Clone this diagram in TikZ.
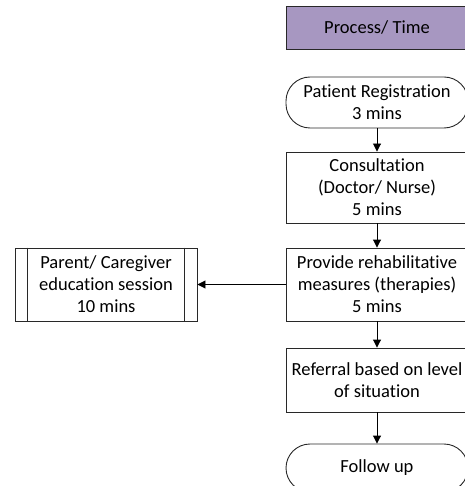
\documentclass[tikz,border=0pt]{standalone}
\usepackage{fontspec}
\setmainfont[Ligatures=NoCommon]{Carlito}
\usetikzlibrary{arrows.meta,positioning}
\definecolor{hdr}{RGB}{167,151,193}
\definecolor{ln}{RGB}{40,40,40}
\tikzset{
  base/.style={draw=ln, line width=0.9pt, align=center, inner sep=0pt,
    font=\fontsize{18.5}{22}\selectfont, text=black},
  proc/.style={base, rectangle, minimum width=182pt},
  term/.style={base, rectangle, rounded corners=24pt, minimum width=182pt},
  arr/.style={draw=black, line width=0.9pt, -{Triangle[length=8pt,width=8pt]}},
}
\begin{document}
\begin{tikzpicture}[x=1pt,y=-1pt]
\useasboundingbox (0,0) rectangle (464,486);
\node[proc, fill=hdr, minimum height=42.5pt] (hdr) at (377,27.75) {Process/ Time};
\node[term, minimum height=51pt] (reg) at (377,102.5) {Patient Registration\\3 mins};
\node[proc, minimum height=71pt] (con) at (377,187.5) {Consultation\\(Doctor/ Nurse)\\5 mins};
\node[proc, minimum height=73pt] (reh) at (377,284.5) {Provide rehabilitative\\measures (therapies)\\5 mins};
\node[proc, minimum height=64pt] (ref) at (377,380) {Referral based on level\\of situation};
\node[term, minimum height=48pt] (fol) at (377,468) {Follow up};
\node[proc, minimum height=73pt] (par) at (106,284.5) {Parent/ Caregiver\\education session\\10 mins};
\draw[draw=ln, line width=0.9pt] ([xshift=13pt]par.north west) -- ([xshift=13pt]par.south west);
\draw[draw=ln, line width=0.9pt] ([xshift=-13pt]par.north east) -- ([xshift=-13pt]par.south east);
\draw[arr] (reg) -- (con);
\draw[arr] (con) -- (reh);
\draw[arr] (reh) -- (ref);
\draw[arr] (ref) -- (fol);
\draw[arr] (reh) -- (par);
\end{tikzpicture}
\end{document}
